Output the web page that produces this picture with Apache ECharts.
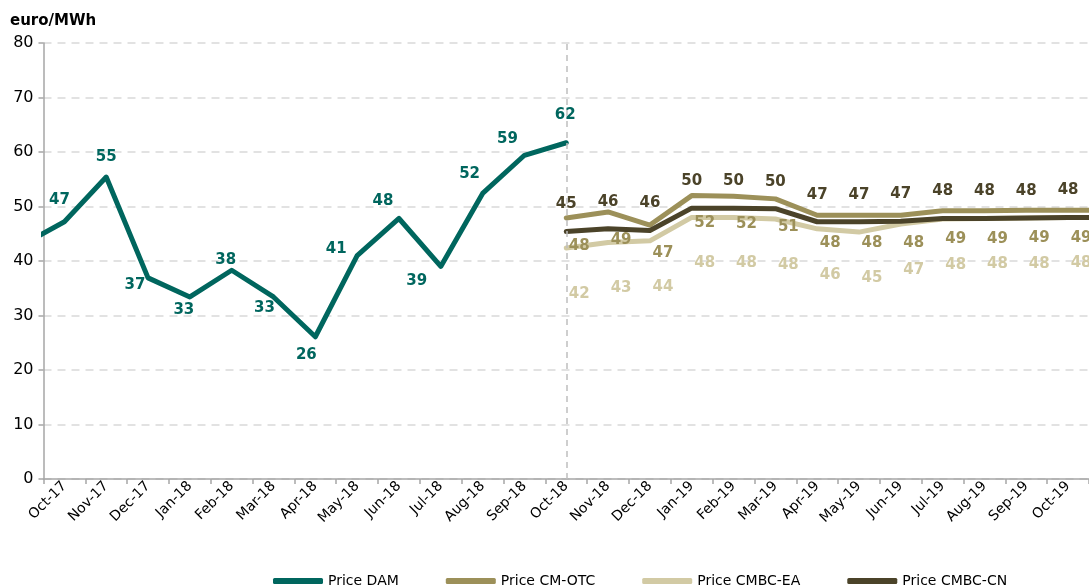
<!DOCTYPE html>
<html><head><meta charset="utf-8">
<script src="https://cdn.jsdelivr.net/npm/echarts@6/dist/echarts.min.js"></script>
<style>html,body{margin:0;padding:0;background:#fff}#c{width:1089px;height:586px}</style>
</head><body><div id="c"></div>
<script>
// ---- data ----
const months = ['Oct-17','Nov-17','Dec-17','Jan-18','Feb-18','Mar-18','Apr-18','May-18','Jun-18','Jul-18','Aug-18','Sep-18','Oct-18',
  'Nov-18','Dec-18','Jan-19','Feb-19','Mar-19','Apr-19','May-19','Jun-19','Jul-19','Aug-19','Sep-19','Oct-19'];
const yTicks = [0,10,20,30,40,50,60,70,80];
// Price DAM: Oct-17 .. Oct-18 (previous month Sep-17 runs off the left edge)
const damPrevMonth = 43.0;
const dam = [47.2, 55.4, 36.9, 33.4, 38.3, 33.4, 26.1, 41.0, 47.8, 39.0, 52.4, 59.4, 61.7];
// Oct-18 .. Oct-19 (the following month Nov-19 runs off the right edge)
const cmOtc  = [47.9, 49.0, 46.6, 52.0, 51.9, 51.4, 48.4, 48.4, 48.4, 49.2, 49.2, 49.3, 49.3];
const cmOtcNext = 49.3;
const cmbcEa = [42.4, 43.4, 43.7, 48.0, 48.0, 47.7, 45.9, 45.3, 46.8, 47.7, 47.8, 47.9, 48.0];
const cmbcEaNext = 48.0;
const cmbcCn = [45.4, 45.9, 45.6, 49.7, 49.7, 49.6, 47.2, 47.2, 47.3, 47.8, 47.8, 47.9, 48.0];
const cmbcCnNext = 48.0;
const splitMonth = 'Oct-18';
const seriesNames = ['Price DAM','Price CM-OTC','Price CMBC-EA','Price CMBC-CN'];

// ---- styles ----
const FONT = 'DejaVu Sans';
const COLORS = ['#00665E', '#9C9059', '#D2CAA4', '#4B4329'];
// label nudges (px, relative to each DAM point) as placed in the original
const damLabelNudge = [[-5,-22],[0,-20],[-13,7],[-6,13],[-6,-10],[-9,11],[-9,18],[-21,-6],[-16,-17],[-24,15],[-13,-19],[-17,-16],[-1,-28]];

const startFwd = months.indexOf(splitMonth);
const last = months.length - 1;
const damData = [[-1, damPrevMonth]].concat(dam.map((v,i)=>[i, v]));
function fwd(arr, next){ return arr.map((v,i)=>[startFwd+i, v]).concat([[startFwd+arr.length, next]]); }
const fmt = p => (p.value[0] < 0 || p.value[0] > last) ? '' : String(Math.round(p.value[1]));

function lineSeries(idx, data, label){
  const color = COLORS[idx];
  return {
    name: seriesNames[idx], type:'line', xAxisIndex:1, data, clip:true,
    symbol:'circle', symbolSize:0, showSymbol:true,
    itemStyle:{color},
    lineStyle:{color, width:5, cap:'round', join:'round'},
    label: Object.assign({show:true, formatter:fmt, fontFamily:FONT, fontWeight:'bold', fontSize:15, color}, label),
    emphasis:{disabled:true}, animation:false
  };
}

const damSeries = lineSeries(0, damData, {position:'inside'});
damSeries.data = damData.map((d,k)=> k===0 ? d : {value:d, label:{position:'inside', offset: damLabelNudge[k-1]}});
damSeries.markLine = {
  silent:true, symbol:'none', label:{show:false},
  lineStyle:{color:'#BFBFBF', type:[6,5], width:1.5},
  data:[[{coord:[startFwd, yTicks[0]]},{coord:[startFwd, yTicks[yTicks.length-1]]}]]
};

const option = {
  animation:false,
  textStyle:{fontFamily:FONT},
  title:{text:'euro/MWh', left:5, top:9, textStyle:{fontFamily:FONT, fontWeight:'bold', fontSize:15, color:'#000'}},
  grid:{left:43.5, right:0, top:43, bottom:107, containLabel:false, outerBoundsMode:'none'},
  legend:{
    left:268, top:569, icon:'roundRect', itemWidth:50, itemHeight:6, itemGap:47,
    textStyle:{fontFamily:FONT, fontSize:14, color:'#000'},
    data: seriesNames.map((n,i)=>({name:n, itemStyle:{color:COLORS[i], opacity:1}}))
  },
  xAxis:[
    {type:'category', data:months, boundaryGap:true,
     axisLine:{onZero:false, lineStyle:{color:'#A6A6A6', width:1.5}},
     axisTick:{show:true, length:5, lineStyle:{color:'#A6A6A6', width:1.5}},
     axisLabel:{rotate:45, fontFamily:FONT, fontSize:14, color:'#000', margin:5, interval:0},
     splitLine:{show:false}},
    {type:'value', min:-0.5, max:last+0.5, show:false, splitLine:{show:false}}
  ],
  yAxis:{type:'value', min:yTicks[0], max:yTicks[yTicks.length-1], interval:10,
    axisLine:{show:true, onZero:false, lineStyle:{color:'#A6A6A6', width:1.5}},
    axisTick:{show:true, length:5, lineStyle:{color:'#A6A6A6', width:1.5}},
    axisLabel:{fontFamily:FONT, fontSize:16, color:'#000', margin:10},
    splitLine:{lineStyle:{color:'#D9D9D9', type:[8,6], width:1.5}}},
  series:[
    damSeries,
    lineSeries(1, fwd(cmOtc, cmOtcNext), {position:'inside', offset:[13,28]}),
    lineSeries(2, fwd(cmbcEa, cmbcEaNext), {position:'inside', offset:[13,46]}),
    lineSeries(3, fwd(cmbcCn, cmbcCnNext), {position:'inside', offset:[0,-27]})
  ]
};
const chart = echarts.init(document.getElementById('c'), null, {renderer:'canvas'});
chart.setOption(option);
</script></body></html>
